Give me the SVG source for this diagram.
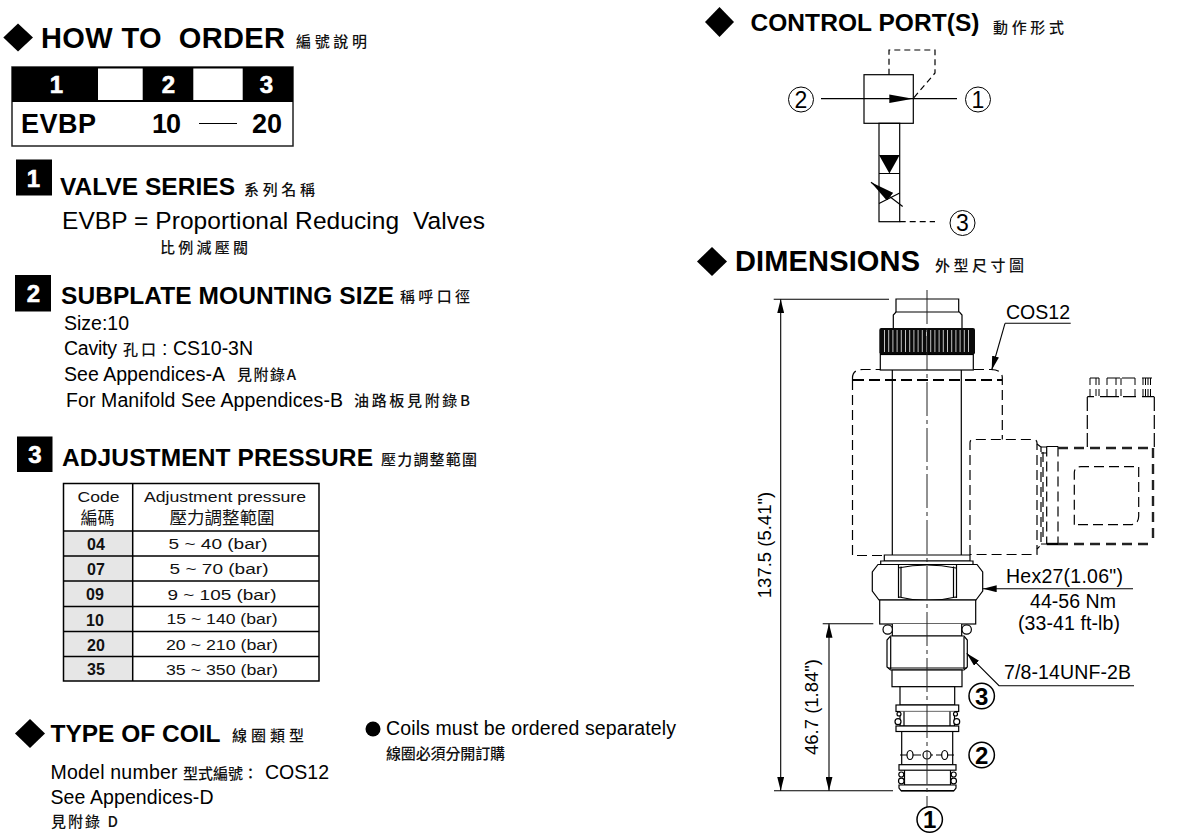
<svg xmlns="http://www.w3.org/2000/svg" width="1200" height="834" viewBox="0 0 1200 834">
<style>
text{font-family:"Liberation Sans",Arial,sans-serif;fill:#000;white-space:pre}
.h{font-weight:bold}
.h1{font-weight:bold;font-size:29px}
.h2{font-weight:bold;font-size:24.5px}
.t{font-size:19.5px}
.cj{font-family:"Noto Sans CJK TC","Liberation Sans",sans-serif;font-size:15px;font-weight:500;fill:#111}
.w{fill:#fff;stroke:#fff;stroke-width:.6;font-weight:bold;text-anchor:middle}
.m{text-anchor:middle}
.tb{font-size:15.5px;text-anchor:middle;fill:#111}
.tbb{font-size:16px;font-weight:bold;text-anchor:middle;fill:#111}
.l{fill:none;stroke:#000;stroke-width:1.2}
.lw{fill:#fff;stroke:#000;stroke-width:1.2}
.d{fill:none;stroke:#000;stroke-width:1.2;stroke-dasharray:10 5}
.dk{fill:none;stroke:#222;stroke-width:2.4;stroke-dasharray:10 6}
.c{fill:none;stroke:#222;stroke-width:1;stroke-dasharray:34 4 4 4}
.dim{fill:none;stroke:#000;stroke-width:1.1}
.grid{fill:none;stroke:#000;stroke-width:1.5}
</style>
<defs>
<marker id="ar" viewBox="0 0 14 7" refX="14" refY="3.5" markerWidth="14" markerHeight="7" markerUnits="userSpaceOnUse" orient="auto-start-reverse"><path d="M0 0L14 3.5L0 7Z" fill="#000"/></marker>
<marker id="ar2" viewBox="0 0 24 10" refX="24" refY="5" markerWidth="24" markerHeight="10" markerUnits="userSpaceOnUse" orient="auto"><path d="M0 0L24 5L0 10Z" fill="#000"/></marker>
</defs>

<g id="how-to-order">
<path d="M18 23.5L33 37.5L18 51.5L3.300 37.500Z"/>
<text class="h1" x="41" y="48" textLength="244">HOW TO  ORDER</text>
<text class="cj" x="296" y="47" textLength="71">編號說明</text>
<rect x="12" y="67" width="281" height="79" fill="#fff" stroke="#222" stroke-width="1.500"/>
<rect x="12" y="67" width="281" height="35" fill="#000"/>
<rect x="98" y="68.500" width="44.700" height="31.500" fill="#fff"/>
<rect x="193.300" y="68.500" width="49.400" height="31.500" fill="#fff"/>
<text class="w" x="56.500" y="93" font-size="24">1</text>
<text class="w" x="168.500" y="93" font-size="24">2</text>
<text class="w" x="266.500" y="93" font-size="24">3</text>
<text class="h" x="21" y="133" font-size="27" textLength="75">EVBP</text>
<text class="h" x="152" y="133" font-size="27" textLength="29">10</text>
<path class="l" d="M199 123.500H237"/>
<text class="h" x="252" y="133" font-size="27" textLength="30">20</text>
</g>

<g id="valve-series">
<rect x="16" y="159.500" width="36" height="36"/>
<text class="w" x="33.500" y="187" font-size="24">1</text>
<text class="h2" x="60" y="195" textLength="175">VALVE SERIES</text>
<text class="cj" x="244" y="195" textLength="71">系列名稱</text>
<text x="62" y="229" font-size="24.500" textLength="423">EVBP = Proportional Reducing  Valves</text>
<text class="cj" x="160" y="253" textLength="88">比例減壓閥</text>
</g>

<g id="subplate-size">
<rect x="15" y="275" width="36" height="36.500"/>
<text class="w" x="33.500" y="302" font-size="24">2</text>
<text class="h2" x="61" y="304" textLength="333">SUBPLATE MOUNTING SIZE</text>
<text class="cj" x="400" y="302" textLength="70">稱呼口徑</text>
<text class="t" x="64" y="330" textLength="65">Size:10</text>
<text class="t" x="64" y="355" textLength="53">Cavity</text>
<text class="cj" x="123" y="355" textLength="33">孔口</text>
<text class="t" x="162" y="355">:</text>
<text class="t" x="173" y="355" textLength="80">CS10-3N</text>
<text class="t" x="64" y="381" textLength="161">See Appendices-A</text>
<text class="cj" x="237" y="380" textLength="59">見附錄A</text>
<text class="t" x="66" y="407" textLength="277">For Manifold See Appendices-B</text>
<text class="cj" x="354" y="406" textLength="116">油路板見附錄B</text>
</g>

<g id="adjustment-pressure">
<rect x="17" y="436.500" width="35.500" height="35.500"/>
<text class="w" x="35" y="463" font-size="24">3</text>
<text class="h2" x="62" y="466" textLength="311">ADJUSTMENT PRESSURE</text>
<text class="cj" x="381" y="465" textLength="96">壓力調整範圍</text>
<rect x="63.500" y="531" width="69" height="150" fill="#e6e6e6"/>
<path class="grid" d="M63.500 483.500H319V681H63.500ZM132.700 483.500V681M63.500 531H319M63.500 556H319M63.500 581H319M63.500 606.500H319M63.500 631.500H319M63.500 656.500H319"/>
<text class="tb" x="98.500" y="502" textLength="42" lengthAdjust="spacingAndGlyphs">Code</text>
<text class="cj m" x="97.500" y="524" style="font-size:17px;font-weight:400">編碼</text>
<text class="tb" x="225" y="502" textLength="162" lengthAdjust="spacingAndGlyphs">Adjustment pressure</text>
<text class="cj m" x="222" y="524" style="font-size:17.5px;font-weight:400">壓力調整範圍</text>
<text class="tbb" x="96" y="550">04</text><text class="tb" x="218" y="549" textLength="99" lengthAdjust="spacingAndGlyphs">5 ~ 40 (bar)</text>
<text class="tbb" x="96" y="575">07</text><text class="tb" x="219" y="574" textLength="99" lengthAdjust="spacingAndGlyphs">5 ~ 70 (bar)</text>
<text class="tbb" x="95" y="600">09</text><text class="tb" x="222" y="600" textLength="109" lengthAdjust="spacingAndGlyphs">9 ~ 105 (bar)</text>
<text class="tbb" x="95" y="626">10</text><text class="tb" x="222" y="624" textLength="111" lengthAdjust="spacingAndGlyphs">15 ~ 140 (bar)</text>
<text class="tbb" x="96" y="651">20</text><text class="tb" x="222" y="650" textLength="112" lengthAdjust="spacingAndGlyphs">20 ~ 210 (bar)</text>
<text class="tbb" x="96" y="675">35</text><text class="tb" x="222" y="675" textLength="112" lengthAdjust="spacingAndGlyphs">35 ~ 350 (bar)</text>
</g>

<g id="type-of-coil">
<path d="M30 719L45 733.500L30 748L15 733.500Z"/>
<text class="h2" x="50.500" y="742" textLength="170">TYPE OF COIL</text>
<text class="cj" x="232" y="741" textLength="72">線圈類型</text>
<circle cx="373" cy="729" r="7.500"/>
<text class="t" x="386" y="735" textLength="290">Coils must be ordered separately</text>
<text class="cj" x="386" y="759" textLength="119">線圈必須分開訂購</text>
<text class="t" x="50.500" y="779" textLength="127">Model number</text>
<text class="cj" x="183" y="779" textLength="75">型式編號：</text>
<text class="t" x="265" y="779" textLength="64">COS12</text>
<text class="t" x="50.500" y="804" textLength="163">See Appendices-D</text>
<text class="cj" x="51" y="827" textLength="67">見附錄 D</text>
</g>

<g id="control-port">
<path d="M719.500 7L734 22L719.500 37L705 22Z"/>
<text class="h" x="750.500" y="31" font-size="24.500" textLength="229">CONTROL PORT(S)</text>
<text class="cj" x="993" y="33" textLength="71">動作形式</text>
<rect class="l" x="864" y="74.700" width="49.300" height="48.600"/>
<path class="l" d="M821 98.700H957"/>
<path d="M889.300 94.500L913 98.700L889.300 103Z"/>
<path class="d" style="stroke-dasharray:6 4" d="M889 74.700V50H935V73L913 98.700"/>
<rect class="l" x="879" y="123.300" width="20.700" height="98.400"/>
<path d="M879 155H899.700L889.400 173.500Z"/>
<path class="l" d="M879 173.500H899.700M879 203.500L899.700 193"/>
<path class="l" d="M902.700 206.500L871 182.300" marker-end="url(#ar2)"/>
<path class="d" style="stroke-dasharray:6 4" d="M899.700 221.700H935"/>
<g fill="none" stroke="#000" stroke-width="1">
<circle cx="801" cy="99.500" r="12.500"/><circle cx="978" cy="99.500" r="12.500"/><circle cx="962.500" cy="223" r="12.500"/>
</g>
<text class="m" x="801" y="107.500" font-size="23">2</text>
<text class="m" x="978" y="107.500" font-size="23">1</text>
<text class="m" x="962.500" y="231" font-size="23">3</text>
</g>

<g id="dimensions-title">
<path d="M712 247L727 261.500L712 276L697 261.500Z"/>
<text class="h" x="735" y="271" font-size="29" textLength="185">DIMENSIONS</text>
<text class="cj" x="935" y="271" textLength="89">外型尺寸圖</text>
</g>

<g id="valve-body">
<path class="lw" d="M896 312V299H958.700V312"/>
<path class="lw" d="M893.300 328V315L896 312H959.500L962 315V328"/>
<rect x="879.300" y="328" width="95.700" height="26.500" rx="2" fill="#0a0a0a"/>
<path d="M884 341H970" fill="none" stroke="#fff" stroke-width="22" stroke-dasharray="1 3.200" opacity=".75"/>
<rect x="880.300" y="354.500" width="93" height="15.500" class="lw"/>
<path class="l" d="M892.300 370V555M961.300 370V555"/>
<path class="lw" d="M884.300 561V555H970V561Z"/>
<path class="lw" d="M880.700 564.500V561H973V564.500Z"/>
<path class="lw" d="M878 564.500L872.300 572V591L879 600H976L982.700 591V572L977 564.500Z"/>
<path class="l" d="M898.500 565V598M901 566.500V597M953.500 566.500V597M956.500 565V598M898 568Q927 562 956 568M899 597Q927 604 956 597"/>
<rect class="lw" x="879.700" y="600" width="96" height="24"/>
<path class="lw" d="M892.300 624V636H961.700V624"/>
<circle class="lw" cx="887.700" cy="629.500" r="4.700"/>
<circle class="lw" cx="966.700" cy="629.500" r="4.700"/>
<path class="lw" d="M890.500 636H964L967.300 640V667L964 670H890.500L887 667V640Z"/>
<path class="l" d="M890.700 637V669M964 637V669M888 668H967"/>
<rect class="lw" x="892" y="670" width="70" height="16.700"/>
<rect class="lw" x="900" y="686.700" width="54.700" height="18.300"/>
<rect class="lw" x="901.700" y="731" width="51" height="34"/>
<rect class="lw" x="896" y="705" width="62.700" height="6.500"/>
<path class="lw" d="M900 711.500V726H954.500V711.500"/>
<path class="l" d="M904 711.500V726M950 711.500V726"/>
<rect class="lw" x="896" y="726" width="62.700" height="5.500"/>
<circle class="lw" cx="898" cy="721.700" r="3"/><circle class="lw" cx="956.700" cy="721.700" r="3"/>
<circle class="lw" cx="899" cy="714" r="2"/><circle class="lw" cx="955.500" cy="714" r="2"/>
<path class="l" d="M900 755H954" style="stroke-dasharray:9 3"/>
<ellipse class="lw" cx="910" cy="755" rx="3" ry="4.500"/><ellipse class="lw" cx="944.700" cy="755" rx="3" ry="4.500"/>
<circle class="lw" cx="927" cy="755" r="4"/>
<path class="lw" d="M904.500 770V785H950.500V770"/>
<rect class="lw" x="899" y="764.700" width="57" height="5.500"/>
<path class="lw" d="M899 785H956V788L954 790.700H901L899 788Z"/>
<path d="M901 790H954V791.500H901Z"/>
<circle class="lw" cx="901.300" cy="774.500" r="2.500"/><circle class="lw" cx="901.300" cy="781" r="2.800"/>
<circle class="lw" cx="953.700" cy="774.500" r="2.500"/><circle class="lw" cx="953.700" cy="781" r="2.800"/>
<path class="c" d="M927 290V810"/>
</g>

<g id="coil-outline">
<path class="d" d="M852.500 380V378Q852.500 369.500 863 369.500H880M974 369.500H991Q1002.300 369.500 1002.300 378V439.500"/>
<path class="d" style="stroke-width:2;stroke-dasharray:11 5" d="M853 380H1002"/>
<path class="d" d="M852.500 380V555.500H884"/>
<path class="d" d="M970 555V443Q970 439.500 973 439.500H1033Q1037 439.500 1037 443V554.500H970"/>
<path class="d" d="M1037 444L1041 447V545L1037 549M1043 452V540"/>
<path class="l" d="M1041 447H1047M1041 453H1047M1041 544H1047M1046.700 446.500H1058"/>
<path class="d" d="M1046.700 446.500V544M1058 446.500V544"/>
<path class="l" style="stroke-width:2.400" d="M1046.700 544H1058"/>
<path class="dk" d="M1058 448H1154M1058 544H1154M1153 448V544"/>
<path class="d" style="stroke-dasharray:14 4" d="M1087.300 447V396.700M1154.300 447V396.700"/>
<path class="l" d="M1087.300 396.700H1094M1100 396.700H1119M1123 396.700H1136M1142 396.700H1154.300M1090 378H1099M1107 378H1120M1122 378H1135M1142 378H1152"/>
<path class="d" style="stroke-dasharray:7 4;stroke-width:1" d="M1090 378V397M1096 378V397M1099 378V397M1107 378V397M1116 378V397M1121 378V397M1135 378V397M1143 378V397M1145.500 378V397M1148 378V397M1150.500 378V397"/>
<path class="d" d="M1074.300 524.700V473Q1074.300 466.700 1081 466.700H1138.700V516Q1138.700 524.700 1130 524.700Z"/>
</g>

<g id="dimension-lines">
<path class="dim" d="M773.700 299.300H889M774 790.700H893M822.700 623.700H873.300"/>
<path class="dim" d="M780.700 299.300V790.700" marker-start="url(#ar)" marker-end="url(#ar)"/>
<path class="dim" d="M829 623.700V790.700" marker-start="url(#ar)" marker-end="url(#ar)"/>
<path class="dim" d="M1005 323.300H1070.700"/>
<path class="dim" d="M1005 323.300L991.700 370" marker-end="url(#ar)"/>
<path class="dim" d="M1133 588.700H982.700" marker-end="url(#ar)"/>
<path class="dim" d="M1134 685.700H999L966.700 653.300" marker-end="url(#ar)"/>
</g>

<g id="dimension-labels">
<text class="m" transform="translate(770.500 545) rotate(-90)" font-size="18.500">137.5 (5.41")</text>
<text class="m" transform="translate(817.500 707) rotate(-90)" font-size="18.500">46.7 (1.84")</text>
<text x="1006" y="319" font-size="19.500" textLength="64">COS12</text>
<text x="1006" y="583" font-size="19.500" textLength="117">Hex27(1.06")</text>
<text x="1030" y="608" font-size="19.500" textLength="86">44-56 Nm</text>
<text x="1018" y="630" font-size="19.500" textLength="102">(33-41 ft-lb)</text>
<text x="1004" y="679" font-size="19.500" textLength="127">7/8-14UNF-2B</text>
</g>

<g id="port-marks">
<g fill="#fff" stroke="#000" stroke-width="1.500">
<circle cx="981.700" cy="696" r="12.700"/><circle cx="981.700" cy="755" r="12.700"/><circle cx="929.700" cy="819.500" r="12.700"/>
</g>
<text class="m h" x="981.700" y="704.500" font-size="24">3</text>
<text class="m h" x="981.700" y="763.500" font-size="24">2</text>
<text class="m h" x="929.700" y="828" font-size="24">1</text>
</g>
</svg>
